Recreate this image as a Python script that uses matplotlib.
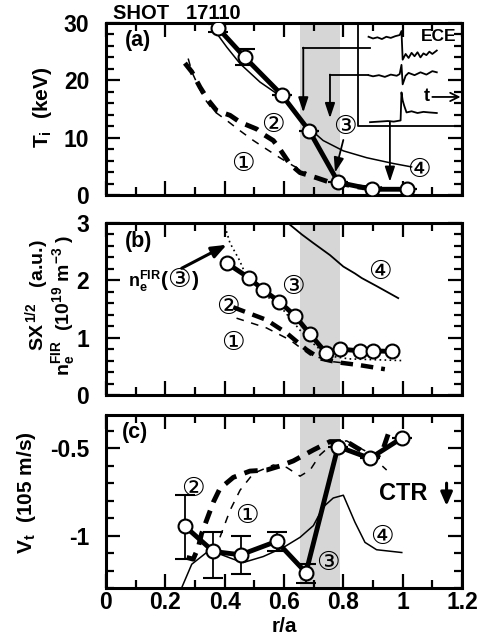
import matplotlib
matplotlib.use("Agg")
import matplotlib.pyplot as plt
from matplotlib.ticker import MultipleLocator, FixedLocator

plt.rcParams['font.family'] = ['Liberation Sans', 'DejaVu Sans']
plt.rcParams['font.weight'] = 'bold'
plt.rcParams['axes.unicode_minus'] = False
plt.rcParams['mathtext.fontset'] = 'custom'
plt.rcParams['mathtext.rm'] = 'Liberation Sans:bold'
plt.rcParams['mathtext.bf'] = 'Liberation Sans:bold'
plt.rcParams['mathtext.it'] = 'Liberation Sans:bold'
plt.rcParams['mathtext.default'] = 'rm'

# ---- datos (a) Ti ----
a3_r = [0.378, 0.468, 0.592, 0.685, 0.783, 0.895, 1.013]
a3_ti = [29.1, 24.0, 17.5, 11.2, 2.2, 1.0, 1.0]
a3_err = [0.7, 1.4, 0, 0, 0, 0, 0]
a4_r = [0.373, 0.407, 0.452, 0.519, 0.592, 0.631, 0.688, 0.732, 0.80, 0.879, 0.968, 1.03]
a4_ti = [28.2, 25.8, 22.9, 19.7, 17.1, 14.7, 11.5, 9.5, 7.7, 6.5, 5.5, 4.9]
a2_r = [0.266, 0.289, 0.317, 0.345, 0.373, 0.418, 0.452, 0.508, 0.53, 0.564, 0.586, 0.62, 0.654, 0.71, 0.75, 0.80, 0.85, 0.93]
a2_ti = [23.0, 21.5, 18.8, 16.5, 14.7, 13.9, 12.7, 11.5, 10.6, 9.5, 8.0, 5.4, 3.9, 3.0, 2.3, 1.9, 1.4, 1.1]
a1_r = [0.277, 0.29, 0.328, 0.362, 0.407, 0.452, 0.497, 0.541, 0.586, 0.631, 0.676]
a1_ti = [23.8, 21.4, 17.1, 14.7, 13.0, 11.2, 9.5, 8.0, 6.5, 5.1, 3.9]

# ECE inset trazas
ece1_t = [0.885, 0.90, 0.915, 0.93, 0.945, 0.96, 0.975, 0.99, 0.996, 1.0, 1.01, 1.02, 1.03, 1.04, 1.05, 1.06, 1.07, 1.08, 1.09, 1.10, 1.115]
ece1_y = [27.6, 27.3, 27.5, 27.2, 27.6, 27.4, 27.7, 27.9, 28.6, 23.6, 24.6, 23.9, 24.8, 24.2, 24.9, 24.0, 24.7, 24.4, 25.0, 24.6, 25.2]
ece2_t = [0.885, 0.90, 0.92, 0.94, 0.96, 0.98, 0.99, 0.996, 1.0, 1.01, 1.02, 1.04, 1.06, 1.08, 1.10, 1.115]
ece2_y = [20.9, 20.7, 20.9, 20.6, 21.0, 20.8, 21.1, 22.7, 19.3, 20.8, 21.3, 20.9, 21.4, 21.0, 21.6, 21.4]
ece3_t = [0.89, 0.92, 0.95, 0.97, 0.993, 0.996, 1.0, 1.005, 1.013, 1.03, 1.05, 1.07, 1.09, 1.115]
ece3_y = [12.7, 12.8, 12.9, 12.8, 13.0, 17.9, 16.5, 15.6, 14.4, 14.6, 14.3, 14.5, 14.4, 14.3]

# ---- datos (b) ne / SX ----
b3_r = [0.407, 0.483, 0.530, 0.584, 0.637, 0.688, 0.741, 0.789, 0.856, 0.901, 0.963]
b3_v = [2.30, 2.04, 1.83, 1.63, 1.38, 1.06, 0.74, 0.80, 0.77, 0.77, 0.76]
bfir_r = [0.401, 0.418, 0.45, 0.474, 0.53, 0.598, 0.654, 0.71, 0.766, 0.82, 0.878, 1.0]
bfir_v = [2.94, 2.65, 2.35, 2.06, 1.78, 1.48, 1.13, 0.84, 0.67, 0.63, 0.62, 0.60]
b4_r = [0.62, 0.66, 0.699, 0.755, 0.80, 0.839, 0.862, 0.912, 0.985]
b4_v = [2.97, 2.80, 2.65, 2.44, 2.24, 2.12, 2.04, 1.90, 1.69]
b2_r = [0.429, 0.48, 0.541, 0.609, 0.676, 0.721, 0.78, 0.856, 0.94]
b2_v = [1.53, 1.43, 1.31, 1.08, 0.79, 0.64, 0.57, 0.52, 0.45]
b1_r = [0.44, 0.541, 0.62, 0.688, 0.766, 0.80]
b1_v = [1.34, 1.17, 0.96, 0.70, 0.58, 0.56]

# ---- datos (c) Vt ----
c3_r = [0.266, 0.362, 0.454, 0.575, 0.674, 0.782, 0.89, 0.997]
c3_v = [-0.947, -1.091, -1.110, -1.033, -1.212, -0.491, -0.558, -0.442]
c3_up = [0.178, 0.110, 0.106, 0.052, 0.048, 0, 0, 0]
c3_lo = [0.188, 0.150, 0.111, 0.054, 0.058, 0, 0, 0]
c4_r = [0.255, 0.289, 0.339, 0.384, 0.429, 0.463, 0.53, 0.598, 0.654, 0.699, 0.732, 0.766, 0.80, 0.839, 0.873, 0.912, 0.997]
c4_v = [-1.299, -1.164, -1.097, -1.106, -1.135, -1.154, -1.12, -1.068, -1.01, -0.943, -0.837, -0.785, -0.769, -0.923, -1.039, -1.081, -1.097]
c2_r = [0.272, 0.294, 0.311, 0.322, 0.362, 0.384, 0.429, 0.485, 0.541, 0.586, 0.631, 0.699, 0.755, 0.811, 0.867, 0.912, 0.935, 0.955]
c2_v = [-1.125, -1.135, -1.068, -0.99, -0.808, -0.731, -0.667, -0.631, -0.625, -0.602, -0.573, -0.51, -0.462, -0.462, -0.52, -0.558, -0.50, -0.40]
c1_r = [0.384, 0.418, 0.452, 0.497, 0.564, 0.609, 0.654, 0.688, 0.721, 0.766, 0.811, 0.879, 0.946]
c1_v = [-1.01, -0.856, -0.74, -0.644, -0.596, -0.61, -0.66, -0.625, -0.539, -0.471, -0.458, -0.52, -0.625]

band = (0.655, 0.79)

W, H = 479, 638
fig = plt.figure(figsize=(W / 100, H / 100), dpi=100)

def caja(top, bottom):
    return fig.add_axes([106 / W, 1 - bottom / H, (462 - 106) / W, (bottom - top) / H])

axa = caja(23, 195)
axb = caja(223, 395)
axc = caja(415, 588)

for ax in (axa, axb, axc):
    ax.set_xlim(0, 1.2)
    ax.axvspan(band[0], band[1], color='#d6d6d6', lw=0, zorder=0)
    ax.xaxis.set_major_locator(MultipleLocator(0.2))
    ax.xaxis.set_minor_locator(MultipleLocator(0.1))
    ax.tick_params(which='both', direction='in', top=True, right=True, width=1.6, labelsize=16.5, pad=2)
    ax.tick_params(which='major', length=10)
    ax.tick_params(which='minor', length=5.5)
    ax.tick_params(axis='y', pad=12)
    for s in ax.spines.values():
        s.set_linewidth(2.2)

circ = dict(family='DejaVu Sans', fontsize=19, fontweight='normal', ha='center', va='center')
flecha = dict(arrowstyle='-|>,head_length=0.9,head_width=0.3', lw=1.3, color='k', shrinkA=0, shrinkB=0)
gruesa = (0, (2.8, 1.8))
fina = (0, (5, 5))

# ---- (a) ----
axa.set_ylim(0, 30)
axa.yaxis.set_major_locator(MultipleLocator(10))
axa.yaxis.set_minor_locator(MultipleLocator(2))
axa.tick_params(labelbottom=False)
axa.plot(a1_r, a1_ti, color='k', lw=1.1, ls=fina)
axa.plot(a2_r, a2_ti, color='k', lw=3.5, ls=gruesa)
axa.plot(a4_r, a4_ti, color='k', lw=1.1)
axa.errorbar(a3_r, a3_ti, yerr=a3_err, color='k', lw=3.5, marker='o', ms=10, mfc='white', mec='k', mew=1.5,
             ecolor='k', elinewidth=1.3, capsize=7, capthick=1.3, zorder=5)
axa.plot([0.85, 0.85, 1.2], [30, 12.1, 12.1], color='k', lw=1.3)
axa.plot(ece1_t, ece1_y, color='k', lw=1.3)
axa.plot(ece2_t, ece2_y, color='k', lw=1.3)
axa.plot(ece3_t, ece3_y, color='k', lw=1.3)
axa.plot([0.89, 0.665], [25.6, 25.6], color='k', lw=1.3)
axa.annotate('', xy=(0.665, 14.4), xytext=(0.665, 25.7), arrowprops=flecha)
axa.plot([0.884, 0.755], [20.9, 20.9], color='k', lw=1.3)
axa.annotate('', xy=(0.755, 13.4), xytext=(0.755, 21.0), arrowprops=flecha)
axa.annotate('', xy=(0.957, 2.3), xytext=(0.957, 12.8), arrowprops=flecha)
axa.annotate('', xy=(0.772, 3.9), xytext=(0.80, 9.6), arrowprops=flecha)
axa.text(1.12, 27.6, 'ECE', fontsize=12.5, ha='center', va='center')
axa.text(1.08, 17.1, 't', fontsize=13, ha='center', va='center')
axa.annotate('', xy=(1.195, 17.1), xytext=(1.10, 17.1),
             arrowprops=dict(arrowstyle='->,head_length=0.6,head_width=0.3', lw=1.3, color='k', shrinkA=0, shrinkB=0))
axa.text(0.109, 27.0, '(a)', fontsize=15.5, ha='center', va='center')
axa.text(0.563, 12.3, '②', **circ)
axa.text(0.462, 5.4, '①', **circ)
axa.text(0.805, 11.8, '③', **circ)
axa.text(1.053, 4.4, '④', **circ)

# ---- (b) ----
axb.set_ylim(0, 3)
axb.yaxis.set_major_locator(MultipleLocator(1))
axb.yaxis.set_minor_locator(MultipleLocator(0.2))
axb.tick_params(labelbottom=False)
axb.plot(b1_r, b1_v, color='k', lw=1.1, ls=fina)
axb.plot(b2_r, b2_v, color='k', lw=3.2, ls=gruesa)
axb.plot(bfir_r, bfir_v, color='k', lw=1.2, ls=(0, (1, 2)))
axb.plot(b4_r, b4_v, color='k', lw=1.3)
axb.plot(b3_r, b3_v, color='k', lw=3.5, marker='o', ms=10, mfc='white', mec='k', mew=1.5, zorder=5)
axb.annotate('', xy=(0.407, 2.62), xytext=(0.255, 2.21),
             arrowprops=dict(arrowstyle='-|>,head_length=0.9,head_width=0.35', lw=2.2, color='k', shrinkA=0, shrinkB=0))
axb.text(0.109, 2.675, '(b)', fontsize=15.5, ha='center', va='center')
axb.text(0.075, 1.98, r'n$_\mathrm{e}^\mathrm{FIR}$', fontsize=13, ha='left', va='center')
axb.text(0.185, 2.0, '(', fontsize=15, ha='left', va='center')
axb.text(0.247, 2.0, '③', **circ)
axb.text(0.29, 2.0, ')', fontsize=15, ha='left', va='center')
axb.text(0.631, 1.88, '③', **circ)
axb.text(0.412, 1.54, '②', **circ)
axb.text(0.429, 0.90, '①', **circ)
axb.text(0.923, 2.15, '④', **circ)

# ---- (c) ----
axc.set_ylim(-1.3, -0.31)
axc.yaxis.set_major_locator(FixedLocator([-1.0, -0.5]))
axc.yaxis.set_minor_locator(MultipleLocator(0.1))
axc.set_yticklabels(['-1', '-0.5'])
axc.set_xticks([0, 0.2, 0.4, 0.6, 0.8, 1.0, 1.2])
axc.set_xticklabels(['0', '0.2', '0.4', '0.6', '0.8', '1', '1.2'])
axc.plot(c1_r, c1_v, color='k', lw=1.1, ls=fina)
axc.plot(c2_r, c2_v, color='k', lw=3.5, ls=gruesa)
axc.plot(c4_r, c4_v, color='k', lw=1.1)
axc.errorbar(c3_r, c3_v, yerr=[c3_lo, c3_up], color='k', lw=3.5, marker='o', ms=10, mfc='white', mec='k', mew=1.5,
             ecolor='k', elinewidth=1.3, capsize=7, capthick=1.3, zorder=5)
axc.text(0.098, -0.413, '(c)', fontsize=15.5, ha='center', va='center')
axc.text(0.294, -0.731, '②', **circ)
axc.text(0.474, -0.885, '①', **circ)
axc.text(0.749, -1.154, '③', **circ)
axc.text(0.929, -1.01, '④', **circ)
axc.text(1.002, -0.76, 'CTR', fontsize=17, ha='center', va='center')
axc.annotate('', xy=(1.148, -0.83), xytext=(1.148, -0.70),
             arrowprops=dict(arrowstyle='-|>,head_length=0.8,head_width=0.35', lw=2.2, color='k', shrinkA=0, shrinkB=0))

# etiquetas
fig.text(284 / W, 1 - 626 / H, 'r/a', fontsize=15, ha='center', va='center')
fig.text(42 / W, 1 - 107 / H, r'T$_\mathrm{i}$  (keV)', rotation=90, fontsize=15, ha='center', va='center')
fig.text(37 / W, 1 - 295 / H, r'SX$^{\,1/2}$   (a.u.)', rotation=90, fontsize=14, ha='center', va='center')
fig.text(64 / W, 1 - 305 / H, r'n$_\mathrm{e}^\mathrm{FIR}$  (10$^{19}$ m$^{-3}$ )', rotation=90, fontsize=14, ha='center', va='center')
fig.text(27 / W, 1 - 493 / H, r'V$_\mathrm{t}$  (105 m/s)', rotation=90, fontsize=15, ha='center', va='center')
fig.text(113 / W, 1 - 13.5 / H, 'SHOT   17110', fontsize=14.5, ha='left', va='center')

fig.savefig('out.png', dpi=100)
